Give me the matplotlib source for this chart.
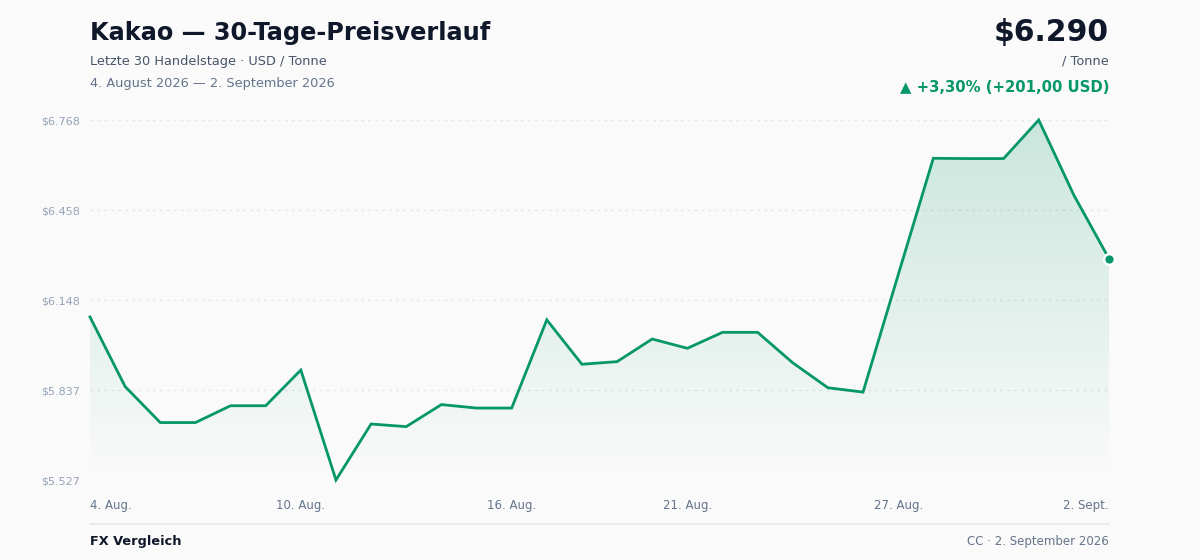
import numpy as np
import pandas as pd
import matplotlib
matplotlib.use("Agg")
import matplotlib.pyplot as plt
from matplotlib.ticker import FuncFormatter

# Kakao, USD / Tonne, last 30 days
dates = pd.date_range("2026-08-04", "2026-09-02", freq="D")
prices = [6089, 5849, 5725, 5725, 5783, 5783, 5906, 5527, 5720, 5711,
          5787, 5775, 5775, 6079, 5926, 5935, 6013, 5981, 6036, 6036,
          5931, 5845, 5830, 6234, 6636, 6635, 6635, 6768, 6509, 6290]
tick_dates = ["2026-08-04", "2026-08-10", "2026-08-16", "2026-08-21",
              "2026-08-27", "2026-09-02"]
tick_labels = ["4. Aug.", "10. Aug.", "16. Aug.", "21. Aug.", "27. Aug.", "2. Sept."]

GREEN = "#059669"
BG = "#fafafa"

plt.rcParams["font.family"] = ["DejaVu Sans"]
fig = plt.figure(figsize=(12, 5.6), dpi=100, facecolor=BG)
ax = fig.add_axes([90 / 1200, 1 - 480 / 560, 1019 / 1200, 360 / 560])
ax.set_facecolor(BG)

x = np.arange(len(prices))
y = np.array(prices, dtype=float)
lo, hi = y.min(), y.max()

# gradient fill under the line
fill = ax.fill_between(x, y, lo, color="none", lw=0)
grad = np.linspace(0.0, 1.0, 256).reshape(-1, 1)
img = ax.imshow(grad, extent=[0, len(x) - 1, lo, hi], origin="lower",
                aspect="auto", cmap=matplotlib.colors.LinearSegmentedColormap.from_list(
                    "g", [(0.02, 0.59, 0.41, 0.0), (0.02, 0.59, 0.41, 0.2)]),
                zorder=1)
img.set_clip_path(fill.get_paths()[0], transform=ax.transData)

ax.plot(x, y, color=GREEN, lw=2, zorder=3, clip_on=False, solid_joinstyle="miter")
ax.scatter([x[-1]], [y[-1]], s=60, color=GREEN, edgecolor="white", linewidth=1.8,
           zorder=4, clip_on=False)

ax.set_xlim(0, len(x) - 1)
ax.set_ylim(lo, hi)
yt = np.linspace(lo, hi, 5)
ax.set_yticks(yt)
ax.yaxis.set_major_formatter(FuncFormatter(lambda v, p: "$" + f"{v:,.0f}".replace(",", ".")))
ax.grid(axis="y", color="#e5e7eb", lw=1, ls=(0, (2, 3)))
ax.set_axisbelow(True)

pos = [dates.get_loc(pd.Timestamp(d)) for d in tick_dates]
ax.set_xticks(pos)
ax.set_xticklabels(tick_labels)
lbls = ax.get_xticklabels()
lbls[0].set_ha("left")
lbls[-1].set_ha("right")

ax.tick_params(axis="y", length=0, pad=7.5, labelsize=8, labelcolor="#94a3b8")
ax.tick_params(axis="x", length=0, pad=14, labelsize=8.5, labelcolor="#64748b")
for s in ax.spines.values():
    s.set_visible(False)

# header
L, R = 90 / 1200, 1109 / 1200
fig.text(L, 1 - 33 / 560, "Kakao — 30-Tage-Preisverlauf", fontsize=17.3, fontweight="bold",
         color="#0f172a", va="center", ha="left")
fig.text(L, 1 - 61 / 560, "Letzte 30 Handelstage · USD / Tonne", fontsize=9.3,
         color="#475569", va="center", ha="left")
fig.text(L, 1 - 83 / 560, "4. August 2026 — 2. September 2026", fontsize=9.3,
         color="#64748b", va="center", ha="left")

last = prices[-1]
change = last - prices[0]
pct = change / prices[0] * 100
fig.text(R, 1 - 32 / 560, "$" + f"{last:,.0f}".replace(",", "."), fontsize=21.5,
         fontweight="bold", color="#0f172a", va="center", ha="right")
fig.text(R, 1 - 61 / 560, "/ Tonne", fontsize=9.3, color="#475569", va="center", ha="right")
fig.text(R, 1 - 87 / 560, f"▲ +{pct:.2f}% (+{change:.2f} USD)".replace(".", ","),
         fontsize=10.7, fontweight="bold", color=GREEN, va="center", ha="right")

# footer
fig.add_artist(plt.Line2D([L, R], [1 - 524 / 560] * 2, color="#e5e7eb", lw=1.2))
fig.text(L, 1 - 541 / 560, "FX Vergleich", fontsize=9.3, fontweight="bold",
         color="#0f172a", va="center", ha="left")
fig.text(R, 1 - 541 / 560, "CC · 2. September 2026", fontsize=8.5,
         color="#64748b", va="center", ha="right")

fig.savefig("out.png", dpi=100, facecolor=BG)
